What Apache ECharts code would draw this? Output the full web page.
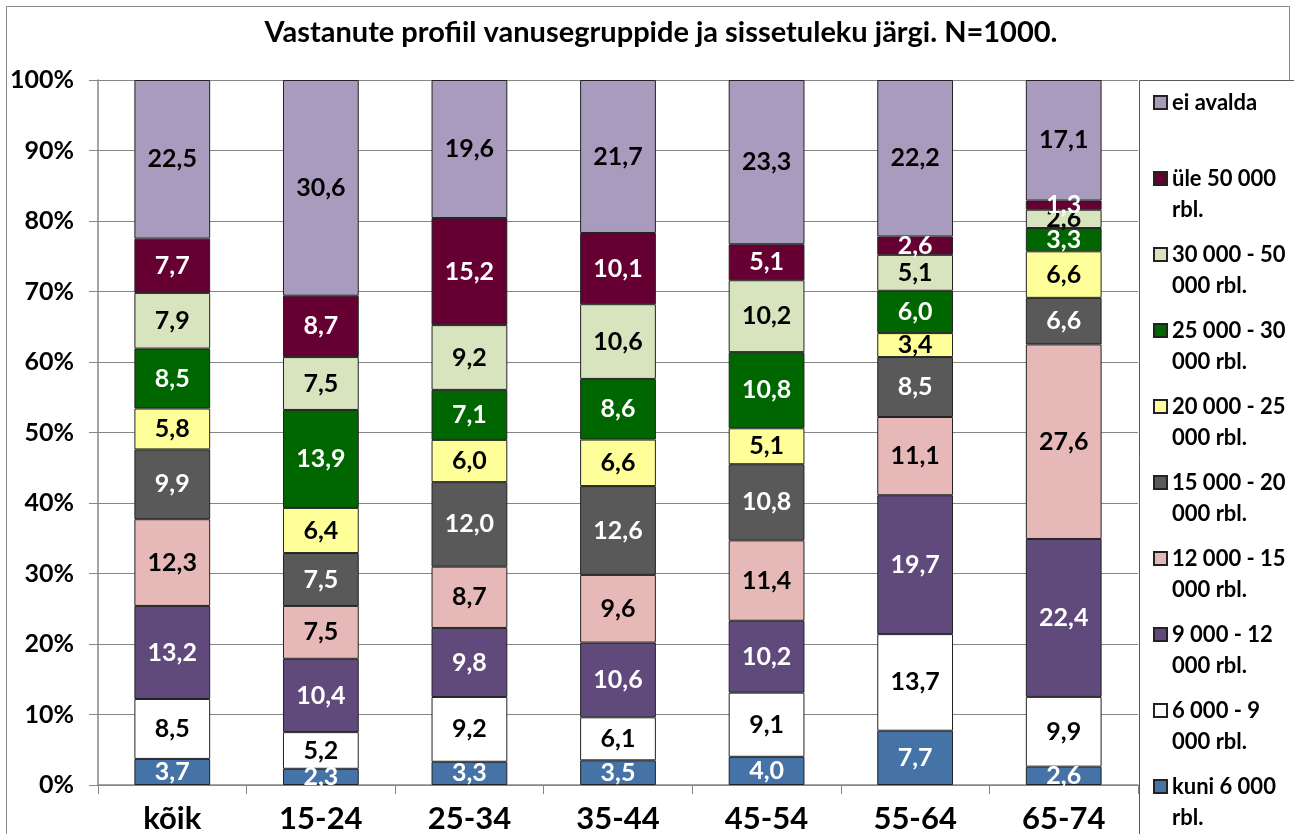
<!DOCTYPE html>
<html>
<head>
<meta charset="utf-8">
<script src="https://cdn.jsdelivr.net/npm/echarts@6/dist/echarts.min.js"></script>
<style>
html,body{margin:0;padding:0;background:#fff;}
#chart{width:1294px;height:834px;}
</style>
</head>
<body>
<div id="chart"></div>
<script>
const categories = ['kõik', '15-24', '25-34', '35-44', '45-54', '55-64', '65-74'];
const seriesNames = ['kuni 6 000 rbl.', '6 000 - 9 000 rbl.', '9 000 - 12 000 rbl.', '12 000 - 15 000 rbl.', '15 000 - 20 000 rbl.', '20 000 - 25 000 rbl.', '25 000 - 30 000 rbl.', '30 000 - 50 000 rbl.', 'üle 50 000 rbl.', 'ei avalda'];
const legendLines = [['kuni 6 000', 'rbl.'], ['6 000 - 9', '000 rbl.'], ['9 000 - 12', '000 rbl.'], ['12 000 - 15', '000 rbl.'], ['15 000 - 20', '000 rbl.'], ['20 000 - 25', '000 rbl.'], ['25 000 - 30', '000 rbl.'], ['30 000 - 50', '000 rbl.'], ['üle 50 000', 'rbl.'], ['ei avalda', ' ']];
const kuni6000 = [3.7, 2.3, 3.3, 3.5, 4.0, 7.7, 2.6];
const r6000_9000 = [8.5, 5.2, 9.2, 6.1, 9.1, 13.7, 9.9];
const r9000_12000 = [13.2, 10.4, 9.8, 10.6, 10.2, 19.7, 22.4];
const r12000_15000 = [12.3, 7.5, 8.7, 9.6, 11.4, 11.1, 27.6];
const r15000_20000 = [9.9, 7.5, 12.0, 12.6, 10.8, 8.5, 6.6];
const r20000_25000 = [5.8, 6.4, 6.0, 6.6, 5.1, 3.4, 6.6];
const r25000_30000 = [8.5, 13.9, 7.1, 8.6, 10.8, 6.0, 3.3];
const r30000_50000 = [7.9, 7.5, 9.2, 10.6, 10.2, 5.1, 2.6];
const ule50000 = [7.7, 8.7, 15.2, 10.1, 5.1, 2.6, 1.3];
const eiAvalda = [22.5, 30.6, 19.6, 21.7, 23.3, 22.2, 17.1];
const yTicks = [0, 10, 20, 30, 40, 50, 60, 70, 80, 90, 100];

const allData = [kuni6000, r6000_9000, r9000_12000, r12000_15000, r15000_20000, r20000_25000, r25000_30000, r30000_50000, ule50000, eiAvalda];
const colors = ['#4573A7', '#FFFFFF', '#604A7B', '#E6B9B8', '#595959', '#FFFF99', '#006600', '#D7E4BD', '#660033', '#A99BBD'];
const labelColors = ['#fff', '#000', '#fff', '#000', '#fff', '#000', '#fff', '#000', '#fff', '#000'];

const totals = categories.map((c, i) => allData.reduce((s, arr) => s + arr[i], 0));
const FONT = 'Lato';

const series = allData.map((arr, si) => ({
  name: seriesNames[si],
  type: 'bar',
  stack: 'total',
  barCategoryGap: '49%',
  data: arr.map((v, i) => ({ value: v / totals[i] * 100, raw: v })),
  itemStyle: { color: colors[si], borderColor: '#222', borderWidth: 1 },
  label: {
    show: true,
    position: 'inside',
    color: labelColors[si],
    fontFamily: FONT,
    fontWeight: 'bold',
    fontSize: 25,
    formatter: p => p.data.raw.toFixed(1).replace('.', ',')
  }
}));

const legendMap = {};
seriesNames.forEach((n, i) => { legendMap[n] = ' \n' + legendLines[i][0] + '\n' + legendLines[i][1]; });

const chart = echarts.init(document.getElementById('chart'));
chart.setOption({
  animation: false,
  backgroundColor: '#fff',
  title: {
    text: 'Vastanute profiil vanusegruppide ja sissetuleku järgi. N=1000.',
    left: 656,
    textAlign: 'center',
    top: 13,
    textStyle: { fontFamily: FONT, fontWeight: 'bold', fontSize: 29, color: '#000' }
  },
  graphic: [
    { type: 'rect', shape: { x: 6.5, y: 6.5, width: 1283, height: 900 }, style: { fill: 'none', stroke: '#8a8a8a', lineWidth: 1 }, z: -1 },
    { type: 'rect', shape: { x: 1139.5, y: 80.5, width: 300, height: 900 }, style: { fill: '#fff', stroke: '#5a5a5a', lineWidth: 1 }, z: 0 }
  ],
  legend: {
    orient: 'vertical',
    left: 1153,
    top: 56,
    padding: 0,
    itemGap: -17,
    itemWidth: 13,
    itemHeight: 13,
    icon: 'rect',
    data: seriesNames.slice().reverse(),
    formatter: n => legendMap[n],
    textStyle: { fontFamily: FONT, fontWeight: 'bold', fontSize: 22, lineHeight: 31, color: '#000' },
    z: 5
  },
  grid: { left: 98, right: 156, top: 80, bottom: 48, containLabel: false },
  xAxis: {
    type: 'category',
    data: categories,
    axisLine: { show: true, lineStyle: { color: '#868686', width: 1.5 } },
    axisTick: { show: true, length: 9, lineStyle: { color: '#868686' } },
    axisLabel: { fontFamily: FONT, fontWeight: 'bold', fontSize: 31, color: '#000', margin: 18 }
  },
  yAxis: {
    type: 'value',
    min: 0,
    max: 100,
    interval: 10,
    axisLine: { show: true, lineStyle: { color: '#868686', width: 1.5 } },
    axisTick: { show: true, length: 9, lineStyle: { color: '#868686' } },
    splitLine: { show: true, lineStyle: { color: '#868686', width: 1 } },
    axisLabel: {
      fontFamily: FONT, fontWeight: 'bold', fontSize: 25, color: '#000', margin: 24,
      formatter: v => (yTicks.indexOf(v) >= 0 ? v + '%' : '')
    }
  },
  series: series
});
</script>
</body>
</html>
